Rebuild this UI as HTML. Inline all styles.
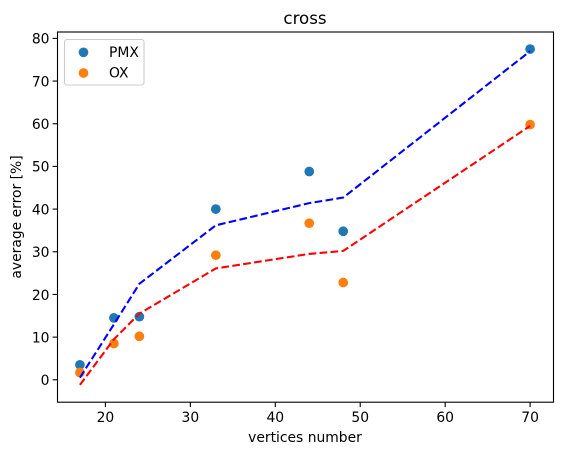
<!DOCTYPE html>
<html>
<head>
<meta charset="utf-8">
<style>
html,body{margin:0;padding:0;background:#fff;}
svg{display:block;font-family:"DejaVu Sans",sans-serif;}
text{fill:#000;}
</style>
</head>
<body>
<svg id="chart" width="562" height="455" viewBox="0 0 562 455" xmlns="http://www.w3.org/2000/svg">
  <rect x="57.5" y="32" width="496" height="370.2" fill="#fff"/>
  <g id="fits"></g>
  <g id="points"></g>
  <g id="ticks"></g>
  <rect x="57.5" y="32" width="496" height="370.2" fill="none" stroke="#000" stroke-width="1.1"/>
  <text x="305" y="24" font-size="16.67" text-anchor="middle">cross</text>
  <text x="305" y="442" font-size="13.89" text-anchor="middle">vertices number</text>
  <text transform="translate(21,217) rotate(-90)" font-size="13.89" text-anchor="middle">average error [%]</text>
  <g>
    <rect x="64.5" y="39.5" width="79.5" height="45.5" rx="2.5" ry="2.5" fill="#fff" fill-opacity="0.8" stroke="#cccccc" stroke-width="1.1"/>
    <circle cx="83.5" cy="52.3" r="4.86" fill="#1f77b4"/>
    <text x="109" y="57" font-size="13.89">PMX</text>
    <circle cx="83.5" cy="73" r="4.86" fill="#ff7f0e"/>
    <text x="109" y="77.5" font-size="13.89">OX</text>
  </g>
</svg>
<script>
const vertices = [17, 21, 24, 33, 44, 48, 70];
const pmxValues = [3.5, 14.5, 14.8, 40, 48.8, 34.8, 77.5];
const oxValues = [1.7, 8.5, 10.2, 29.2, 36.7, 22.8, 59.8];
const pmxFit = [0.5, 13, 22.5, 36.2, 41.4, 42.7, 77];
const oxFit = [-1.2, 9.5, 15.5, 26.1, 29.5, 30.2, 59.5];
const xTicks = [20, 30, 40, 50, 60, 70];
const yTicks = [0, 10, 20, 30, 40, 50, 60, 70, 80];

const NS = 'http://www.w3.org/2000/svg';
function xPos(v) { return 105.4 + (v - 20) * 8.494; }
function yPos(v) { return 379.8 - v * 4.2675; }
function make(tag, attrs, parent) {
  const el = document.createElementNS(NS, tag);
  for (const k in attrs) el.setAttribute(k, attrs[k]);
  parent.appendChild(el);
  return el;
}
const pointsGroup = document.getElementById('points');
const fitsGroup = document.getElementById('fits');
const ticksGroup = document.getElementById('ticks');

function drawPoints(values, color, name) {
  values.forEach(function (v, i) {
    const c = make('circle', { cx: xPos(vertices[i]), cy: yPos(v), r: 4.86, fill: color }, pointsGroup);
    
    
  });
}
function drawFit(values, color, name) {
  const pts = values.map(function (v, i) { return xPos(vertices[i]) + ',' + yPos(v); }).join(' ');
  const l = make('polyline', { points: pts, fill: 'none', stroke: color, 'stroke-width': 2.08, 'stroke-dasharray': '7.7 3.33' }, fitsGroup);
  
  
}
drawFit(pmxFit, '#0000ff', 'pmx');
drawFit(oxFit, '#ff0000', 'ox');
drawPoints(pmxValues, '#1f77b4', 'pmx');
drawPoints(oxValues, '#ff7f0e', 'ox');
document.getElementById('chart').insertBefore(pointsGroup, fitsGroup);

xTicks.forEach(function (t) {
  const m = make('line', { x1: xPos(t), x2: xPos(t), y1: 402.2, y2: 407.1, stroke: '#000', 'stroke-width': 1.1 }, ticksGroup);
  
  
  const s = make('text', { x: xPos(t), y: 422, 'font-size': 13.89, 'text-anchor': 'middle' }, ticksGroup);
  
  
  s.textContent = t;
});
yTicks.forEach(function (t) {
  const m = make('line', { x1: 52.6, x2: 57.5, y1: yPos(t), y2: yPos(t), stroke: '#000', 'stroke-width': 1.1 }, ticksGroup);
  
  
  const s = make('text', { x: 49.5, y: yPos(t) + 5.3, 'font-size': 13.89, 'text-anchor': 'end' }, ticksGroup);
  
  
  s.textContent = t;
});
</script>
</body>
</html>
